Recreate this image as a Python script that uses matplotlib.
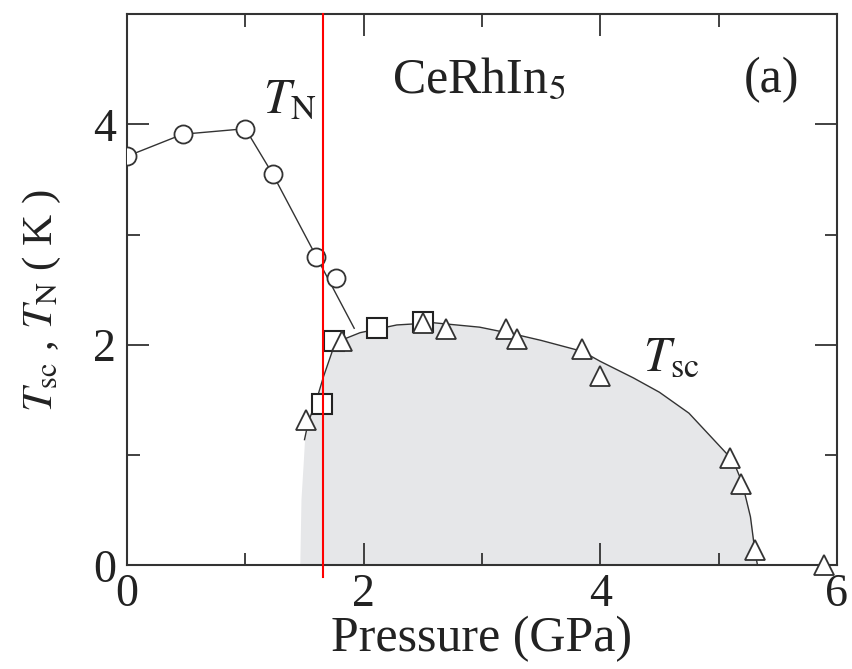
import matplotlib
matplotlib.use("Agg")
import matplotlib.pyplot as plt

plt.rcParams['font.family'] = ['Liberation Serif', 'DejaVu Serif']
plt.rcParams['mathtext.fontset'] = 'stix'

# Neel temperature (open circles)
p_tn = [0.0, 0.47, 1.0, 1.23, 1.6, 1.77]
t_tn = [3.71, 3.91, 3.96, 3.55, 2.80, 2.61]
# guide line through T_N, running down toward the SC dome
p_tn_line = [0.0, 0.47, 1.0, 1.23, 1.6, 1.92]
t_tn_line = [3.71, 3.91, 3.96, 3.55, 2.80, 2.15]

# T_sc, squares and triangles
p_sq = [1.65, 1.75, 2.11, 2.5]
t_sq = [1.46, 2.03, 2.15, 2.21]
p_tri = [1.51, 1.82, 2.5, 2.7, 3.2, 3.3, 3.85, 4.0, 5.1, 5.19, 5.31, 5.89]
t_tri = [1.32, 2.03, 2.2, 2.14, 2.14, 2.05, 1.96, 1.72, 0.97, 0.74, 0.14, 0.0]

# hand-drawn T_sc dome
p_dome = [1.50, 1.53, 1.61, 1.66, 1.76, 1.97, 2.28, 2.59, 2.98, 3.3, 3.5,
          3.85, 4.0, 4.28, 4.5, 4.75, 4.95, 5.08, 5.15, 5.20, 5.27, 5.31, 5.33]
t_dome = [1.14, 1.29, 1.53, 1.71, 2.02, 2.11, 2.18, 2.20, 2.16, 2.09, 2.04,
          1.94, 1.85, 1.70, 1.57, 1.38, 1.15, 1.00, 0.88, 0.75, 0.44, 0.11, 0.0]
# lower-left edge of the shaded SC region
p_edge = [1.46, 1.47, 1.49]
t_edge = [0.0, 0.6, 0.95]

p_marker = 1.655

fig = plt.figure(figsize=(8.53, 6.69), dpi=100)
ax = fig.add_axes([0.149, 0.155, 0.832, 0.824])

ax.fill_between(p_edge + p_dome, 0, t_edge + t_dome, color='#e6e7e9', lw=0, zorder=1)
ax.plot(p_dome, t_dome, color='#333333', lw=1.0, zorder=2)
ax.plot(p_tn_line, t_tn_line, color='#333333', lw=1.0, zorder=2)

ax.plot(p_tn, t_tn, 'o', ms=13, mfc='white', mec='#333333', mew=1.3, zorder=3)
ax.plot(p_sq, t_sq, 's', ms=14, mfc='white', mec='#222222', mew=1.5, zorder=3)
ax.plot(p_tri, t_tri, '^', ms=14, mfc='white', mec='#333333', mew=1.3, zorder=4,
        clip_on=False)

ax.axvline(p_marker, ymin=-0.022, ymax=1, color='red', lw=1.5, zorder=5, clip_on=False)

ax.set_xlim(0, 6)
ax.set_ylim(0, 5)
ax.set_xticks([0, 2, 4, 6])
ax.set_xticks([1, 3, 5], minor=True)
ax.set_yticks([0, 2, 4])
ax.set_yticks([1, 3, 5], minor=True)
ax.tick_params(which='both', direction='in', top=True, right=True, width=1.3,
               colors='#333333', labelcolor='#222222', labelsize=33)
ax.tick_params(which='major', length=16)
ax.tick_params(axis='x', which='major', pad=6)
ax.tick_params(axis='y', which='major', pad=8)
ax.tick_params(which='minor', length=9)
for s in ax.spines.values():
    s.set_linewidth(1.5)
    s.set_color('#333333')

ax.set_xlabel('Pressure (GPa)', fontsize=36, color='#222222', labelpad=0)
ax.set_ylabel(r'$T_{\rm sc}$ , $T_{\rm N}$ ( K )', fontsize=31, color='#222222')
ax.yaxis.set_label_coords(-0.09, 0.48)

ax.text(2.24, 4.29, r'CeRhIn$_5$', fontsize=36, ha='left', va='baseline', color='#222222')
ax.text(5.21, 4.29, '(a)', fontsize=36, ha='left', va='baseline', color='#222222')
ax.text(1.15, 4.11, r'$T_{\rm N}$', fontsize=35, ha='left', va='baseline', color='#222222')
ax.text(4.36, 1.77, r'$T_{\rm sc}$', fontsize=35, ha='left', va='baseline', color='#222222')

fig.savefig('out.png', dpi=100)
